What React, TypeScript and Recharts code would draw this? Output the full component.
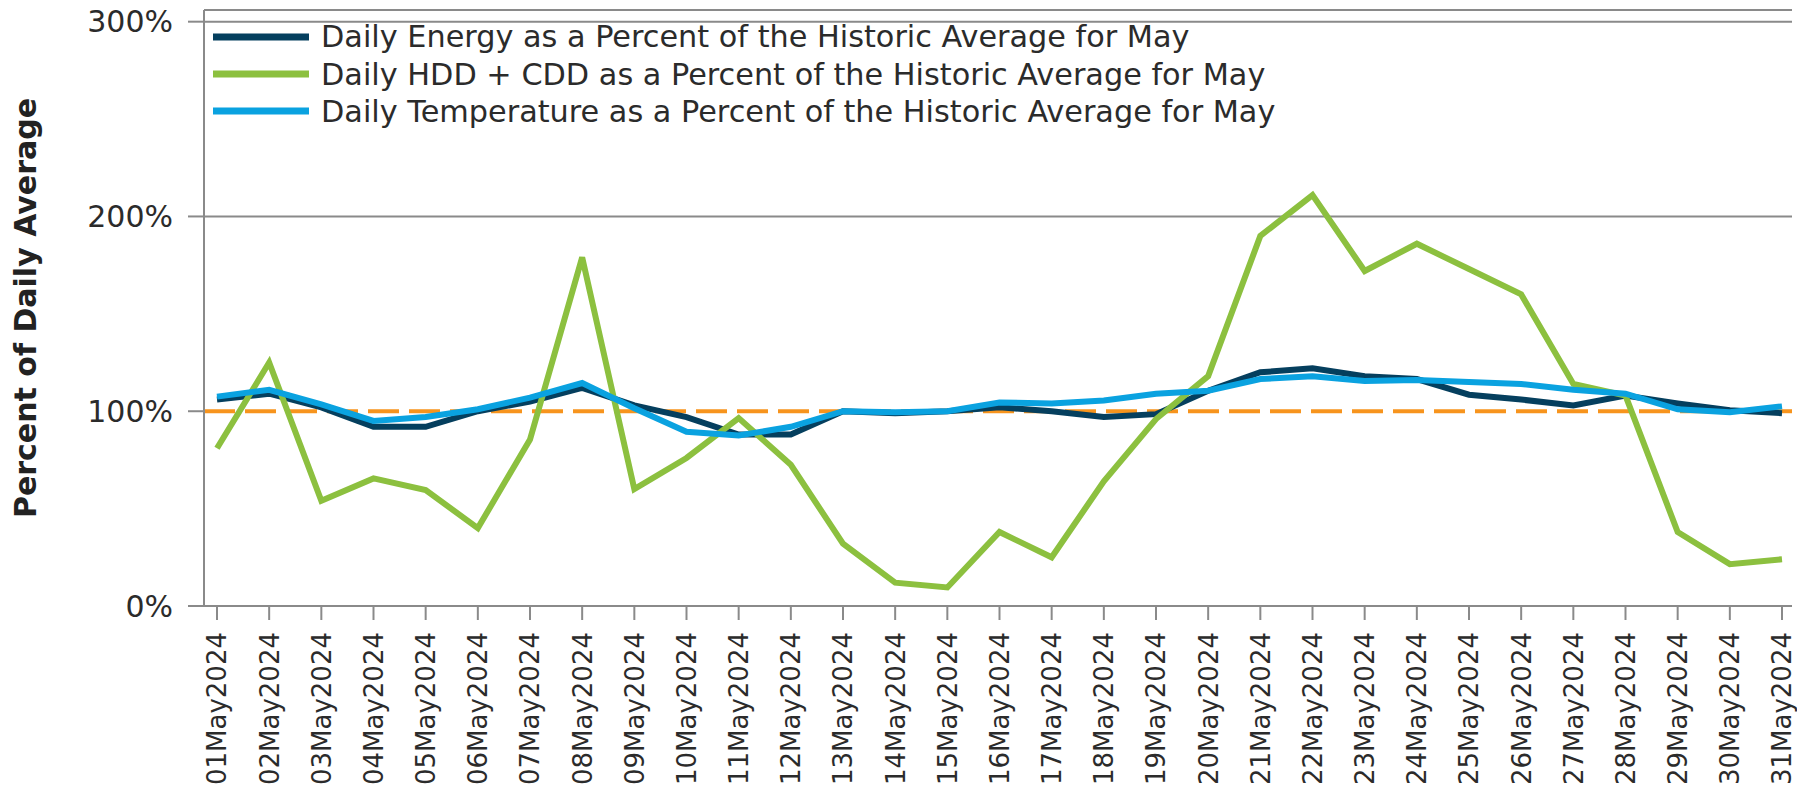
import React from 'react';
import { LineChart, Line, XAxis, YAxis, ReferenceLine, Legend, Label } from 'recharts';

const days = [
  '01May2024', '02May2024', '03May2024', '04May2024', '05May2024', '06May2024', '07May2024', '08May2024',
  '09May2024', '10May2024', '11May2024', '12May2024', '13May2024', '14May2024', '15May2024', '16May2024',
  '17May2024', '18May2024', '19May2024', '20May2024', '21May2024', '22May2024', '23May2024', '24May2024',
  '25May2024', '26May2024', '27May2024', '28May2024', '29May2024', '30May2024', '31May2024',
];

const energy = [
  106, 109, 102, 92, 92, 100, 105, 112, 103, 97, 88, 88, 100, 99, 100, 102,
  100, 97, 98.5, 110.5, 120, 122, 118, 116.5, 108.5, 106, 103, 108, 104, 100.5, 99,
];

const hddCdd = [
  81, 125, 54, 65.5, 59.5, 40, 85.5, 179, 60, 76, 96.5, 72.5, 32, 12, 9.5, 38,
  25, 64, 96, 118, 190, 211, 172, 186, 173, 160, 114, 108, 38, 21.5, 24,
];

const temperature = [
  107.5, 111, 103.5, 95, 97, 101, 107, 114.5, 101.5, 89.5, 87.5, 92, 100, 99.5, 100, 104.5,
  104, 105.5, 109, 110.5, 116.5, 118, 115.5, 116, 115, 114, 111, 109, 101, 99.5, 102.5,
];

const yTicks = [0, 100, 200, 300];

const seriesNames = [
  'Daily Energy as a Percent of the Historic Average for May',
  'Daily HDD + CDD as a Percent of the Historic Average for May',
  'Daily Temperature as a Percent of the Historic Average for May',
];
const seriesColors = ['#053f5e', '#8cc03f', '#0aa2e0'];

const data = days.map((day, i) => ({
  day,
  energy: energy[i],
  hddCdd: hddCdd[i],
  temperature: temperature[i],
}));

const FONT = '"DejaVu Sans", Verdana, sans-serif';

const DayTick = (props: any) => {
  const { x, y, payload } = props;
  return (
    <g transform={`translate(${x},${y})`}>
      <text
        x={-10}
        y={0}
        dy="0.36em"
        transform="rotate(-90)"
        textAnchor="end"
        fontSize={26}
        fontFamily={FONT}
        fill="#2b2b2b"
      >
        {payload.value}
      </text>
    </g>
  );
};

const YTitle = (props: any) => {
  const { viewBox } = props;
  const cx = 25;
  const cy = viewBox.y + viewBox.height / 2;
  return (
    <text
      x={cx}
      y={cy}
      transform={`rotate(-90, ${cx}, ${cy})`}
      textAnchor="middle"
      dominantBaseline="central"
      fontSize={30}
      fontWeight="bold"
      fontFamily={FONT}
      fill="#222"
    >
      Percent of Daily Average
    </text>
  );
};

const renderLegend = () => (
  <div style={{ fontFamily: FONT, fontSize: 30.3, color: '#2b2b2b' }}>
    {seriesNames.map((name, i) => (
      <div key={name} style={{ display: 'flex', alignItems: 'center', height: 37.4, whiteSpace: 'nowrap' }}>
        <svg width={96} height={10} style={{ marginRight: 12 }}>
          <line x1={0} y1={5} x2={96} y2={5} stroke={seriesColors[i]} strokeWidth={7} />
        </svg>
        <span>{name}</span>
      </div>
    ))}
  </div>
);

export default function App() {
  return (
    <div style={{ position: 'absolute', left: 0, top: 0, width: 1797, height: 786, background: '#fff' }}>
      <LineChart
        width={1797}
        height={786}
        data={data}
        margin={{ top: 10, right: 5, bottom: 0, left: 0 }}
      >
        <XAxis
          dataKey="day"
          interval={0}
          height={180}
          tick={<DayTick />}
          tickSize={14}
          tickMargin={2}
          axisLine={{ stroke: '#8a8a8a', strokeWidth: 2 }}
          tickLine={{ stroke: '#8a8a8a', strokeWidth: 2 }}
          padding={{ left: 13, right: 10 }}
        />
        <YAxis
          yAxisId="left"
          domain={[0, 306]}
          ticks={yTicks}
          width={204}
          tickSize={16}
          tickMargin={15}
          tickFormatter={(v: number) => `${v}%`}
          tick={{ fontSize: 30, fontFamily: FONT, fill: '#2b2b2b' }}
          axisLine={{ stroke: '#8a8a8a', strokeWidth: 2 }}
          tickLine={{ stroke: '#8a8a8a', strokeWidth: 2 }}
          allowDataOverflow
        >
          <Label content={<YTitle />} />
        </YAxis>
        <YAxis
          yAxisId="right"
          orientation="right"
          domain={[0, 306]}
          width={0}
          tick={false}
          tickLine={false}
          axisLine={{ stroke: '#8a8a8a', strokeWidth: 2 }}
        />
        <ReferenceLine yAxisId="left" y={306} stroke="#8a8a8a" strokeWidth={2} />
        <ReferenceLine yAxisId="left" y={300} stroke="#8a8a8a" strokeWidth={2} />
        <ReferenceLine yAxisId="left" y={200} stroke="#8a8a8a" strokeWidth={2} />
        <ReferenceLine yAxisId="left" y={100} stroke="#f7941d" strokeWidth={4} strokeDasharray="31 10" />
        <Legend
          layout="vertical"
          align="center"
          verticalAlign="middle"
          content={renderLegend}
          wrapperStyle={{ left: 213, top: 18, width: 1400 }}
        />
        <Line yAxisId="left" type="linear" dataKey="energy" name={seriesNames[0]} stroke={seriesColors[0]} strokeWidth={6} dot={false} isAnimationActive={false} />
        <Line yAxisId="left" type="linear" dataKey="hddCdd" name={seriesNames[1]} stroke={seriesColors[1]} strokeWidth={6} dot={false} isAnimationActive={false} />
        <Line yAxisId="left" type="linear" dataKey="temperature" name={seriesNames[2]} stroke={seriesColors[2]} strokeWidth={6} dot={false} isAnimationActive={false} />
      </LineChart>
    </div>
  );
}
